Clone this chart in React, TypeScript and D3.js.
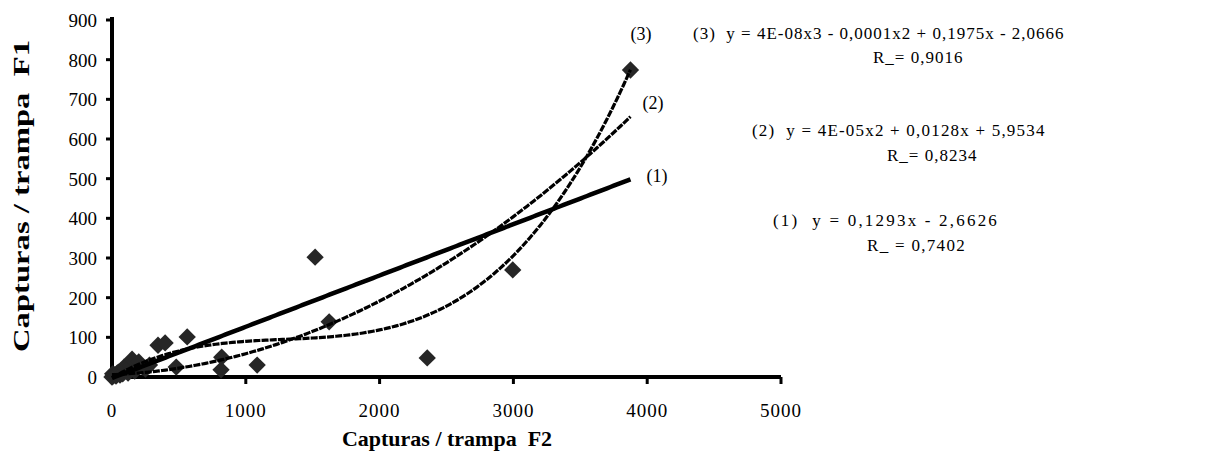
import React from "react";
import * as d3 from "d3";

const xTicks = [0, 1000, 2000, 3000, 4000, 5000];
const yTicks = [0, 100, 200, 300, 400, 500, 600, 700, 800, 900];

const pointsX = [0, 5, 10, 20, 30, 40, 50, 60, 70, 80, 90, 100, 120, 140, 150, 170, 200, 230, 250, 280, 344, 397, 562, 480, 820, 815, 1085, 1518, 1623, 2356, 2995, 3875];
const pointsY = [0, 8, 3, 6, 2, 10, 12, 5, 16, 8, 25, 22, 10, 28, 45, 15, 38, 25, 20, 30, 80, 86, 101, 25, 50, 18, 30, 302, 139, 48, 270, 774];

// trendline coefficients (highest order first)
const linCoef = [0.1293, -2.6626];
const quadCoef = [4e-5, 0.0128, 5.9534];
const cubicCoef = [3.697e-8, -1.425e-4, 0.1975, -2.0666];
const xMaxFit = 3875;

const eqTexts = [
  "(3)  y = 4E-08x3 - 0,0001x2 + 0,1975x - 2,0666",
  "R_= 0,9016",
  "(2)  y = 4E-05x2 + 0,0128x + 5,9534",
  "R_= 0,8234",
  "(1)  y = 0,1293x - 2,6626",
  "R_ = 0,7402",
];

const poly = (c: number[], x: number) => c.reduce((acc, k) => acc * x + k, 0);

export default function App() {
  const W = 1205, H = 465;
  const x = d3.scaleLinear().domain([0, 5000]).range([112, 781]);
  const y = d3.scaleLinear().domain([0, 900]).range([377, 20]);
  const xs = d3.range(0, xMaxFit + 1, 25);
  const line = d3.line<number>().x((d) => x(d));
  const mk = (c: number[]) => line.y((d) => y(poly(c, d)))(xs) as string;
  const diamond = d3.symbol().type(d3.symbolSquare).size(150)() as string;
  const font = "'Liberation Serif', 'Times New Roman', serif";
  const eqPos: [number, number, number][] = [
    [693, 39, 1], [873, 63, 1],
    [752, 136, 1.2], [887, 161, 1],
    [773, 226, 2.2], [867, 251, 1.3],
  ];
  return (
    <svg width={W} height={H} xmlSpace="preserve" style={{ position: "absolute", left: 0, top: 0, background: "#fff", whiteSpace: "pre" }} fontFamily={font}>
      {/* axes */}
      <line x1={x(0)} x2={x(5000)} y1={y(0)} y2={y(0)} stroke="#000" strokeWidth={4} />
      <line x1={x(0)} x2={x(0)} y1={y(0) + 2} y2={y(900) - 3} stroke="#000" strokeWidth={4} />
      {yTicks.map((t) => (
        <g key={"y" + t}>
          <line x1={x(0) - 6} x2={x(0)} y1={y(t)} y2={y(t)} stroke="#000" strokeWidth={3} />
          <text x={97} y={y(t) + 7} textAnchor="end" fontSize={19}>{t}</text>
        </g>
      ))}
      {xTicks.map((t) => (
        <g key={"x" + t}>
          <line x1={x(t)} x2={x(t)} y1={y(0)} y2={y(0) + 7} stroke="#000" strokeWidth={3} />
          <text x={x(t)} y={417} textAnchor="middle" fontSize={19} letterSpacing={1}>{t}</text>
        </g>
      ))}
      {/* points */}
      {pointsX.map((px, i) => (
        <path key={"p" + i} d={diamond} transform={`translate(${x(px)},${y(pointsY[i])}) rotate(45)`} fill="#262626" />
      ))}
      {/* trendlines */}
      <path d={mk(cubicCoef)} fill="none" stroke="#000" strokeWidth={3.2} strokeDasharray="7 1.2" />
      <path d={mk(quadCoef)} fill="none" stroke="#000" strokeWidth={3.2} strokeDasharray="7 1.2" />
      <path d={mk(linCoef)} fill="none" stroke="#000" strokeWidth={4.5} />
      {/* curve labels */}
      <text x={641} y={40} textAnchor="middle" fontSize={18}>(3)</text>
      <text x={653} y={109} textAnchor="middle" fontSize={18}>(2)</text>
      <text x={657} y={182} textAnchor="middle" fontSize={18}>(1)</text>
      {/* equations */}
      {eqTexts.map((t, i) => (
        <text key={"e" + i} x={eqPos[i][0]} y={eqPos[i][1]} fontSize={17} letterSpacing={eqPos[i][2]} xmlSpace="preserve">{t}</text>
      ))}
      {/* axis titles */}
      <text x={447} y={446} textAnchor="middle" fontSize={22} fontWeight="bold" xmlSpace="preserve">Capturas / trampa  F2</text>
      <text transform="translate(29,196) rotate(-90)" textAnchor="middle" fontSize={23} fontWeight="bold" textLength={312} lengthAdjust="spacingAndGlyphs" xmlSpace="preserve">Capturas / trampa  F1</text>
    </svg>
  );
}
